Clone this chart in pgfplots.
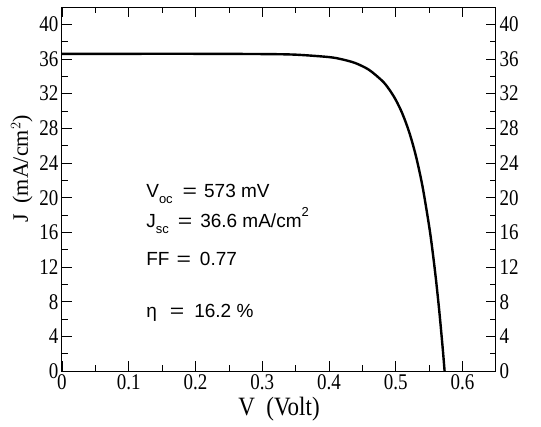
\documentclass[border=0pt]{standalone}
\usepackage{fontspec}
\setmainfont{Liberation Serif}
\newfontfamily\annfont{Liberation Sans}
\usepackage{pgfplots}
\pgfplotsset{compat=1.18}
\newcommand{\ann}{\annfont\fontsize{19}{19}\selectfont}
\newcommand{\sub}[1]{\raisebox{-6pt}{\fontsize{13}{13}\selectfont #1}}
\newcommand{\eq}{\scalebox{1.3}[1]{=}}
\begin{document}
\begin{tikzpicture}
\pgfplotsset{
  jvbase/.style={
    scale only axis,
    width=434pt, height=364pt,
    xmin=0, xmax=0.65, ymin=0, ymax=42,
    xtick={0,0.1,...,0.6},
    ytick={0,4,...,40},
    minor x tick num=1, minor y tick num=1,
    tick align=inside,
    major tick length=10pt, minor tick length=6pt,
    axis line style={line width=1pt},
    every tick/.style={black, line width=0.8pt},
    tick label style={font=\fontsize{19}{19}\selectfont},
    xticklabel={\scalebox{1}[1.18]{\pgfmathprintnumber[fixed,precision=1,assume math mode=true]{\tick}}},
    yticklabel={\scalebox{1}[1.18]{\pgfmathprintnumber[assume math mode=true]{\tick}}},
  }
}
\begin{axis}[jvbase,
    xlabel={\scalebox{1}[1.15]{V\ \ (Volt)}},
    ylabel={J\ \ (mA/cm$^2$)},
    xlabel style={font=\fontsize{23}{23}\selectfont,
      at={(axis description cs:0.5,0)}, anchor=base, yshift=-44pt},
    ylabel style={font=\fontsize{22}{22}\selectfont,
      at={(ticklabel cs:0.555)}},
]
\addplot[black, line width=2.4pt, smooth] coordinates {
  (0,36.60) (0.1,36.60) (0.2,36.60) (0.3,36.57) (0.35,36.50)
  (0.4,36.22) (0.42,35.95) (0.44,35.51) (0.46,34.74) (0.48,33.45)
  (0.49,32.50) (0.50,31.27) (0.51,29.66) (0.52,27.56) (0.53,24.83)
  (0.54,21.28) (0.55,16.65) (0.555,13.83) (0.56,10.62) (0.565,6.96)
  (0.57,2.79) (0.573,0)
};
\node[anchor=base west, font=\ann, inner sep=0pt]
  at (axis cs:0.126,20.0) {V\sub{oc}\hspace{10pt}\eq\hspace{7pt}573 mV};
\node[anchor=base west, font=\ann, inner sep=0pt]
  at (axis cs:0.126,16.6) {J\sub{sc}\hspace{9pt}\eq\hspace{8pt}36.6 mA/cm\raisebox{11pt}{\fontsize{13}{13}\selectfont 2}};
\node[anchor=base west, font=\ann, inner sep=0pt]
  at (axis cs:0.126,12.2) {FF\hspace{7pt}\eq\hspace{9pt}0.77};
\node[anchor=base west, font=\ann, inner sep=0pt]
  at (axis cs:0.126,6.2) {η\hspace{13pt}\eq\hspace{10pt}16.2 \%};
\end{axis}
\begin{axis}[jvbase,
    yticklabel pos=right,
    xticklabels={},
]
\end{axis}
\pgfresetboundingbox
\path (current axis.south west) ++(-62pt,-55pt) rectangle ++(541pt,426pt);
\end{tikzpicture}
\end{document}
